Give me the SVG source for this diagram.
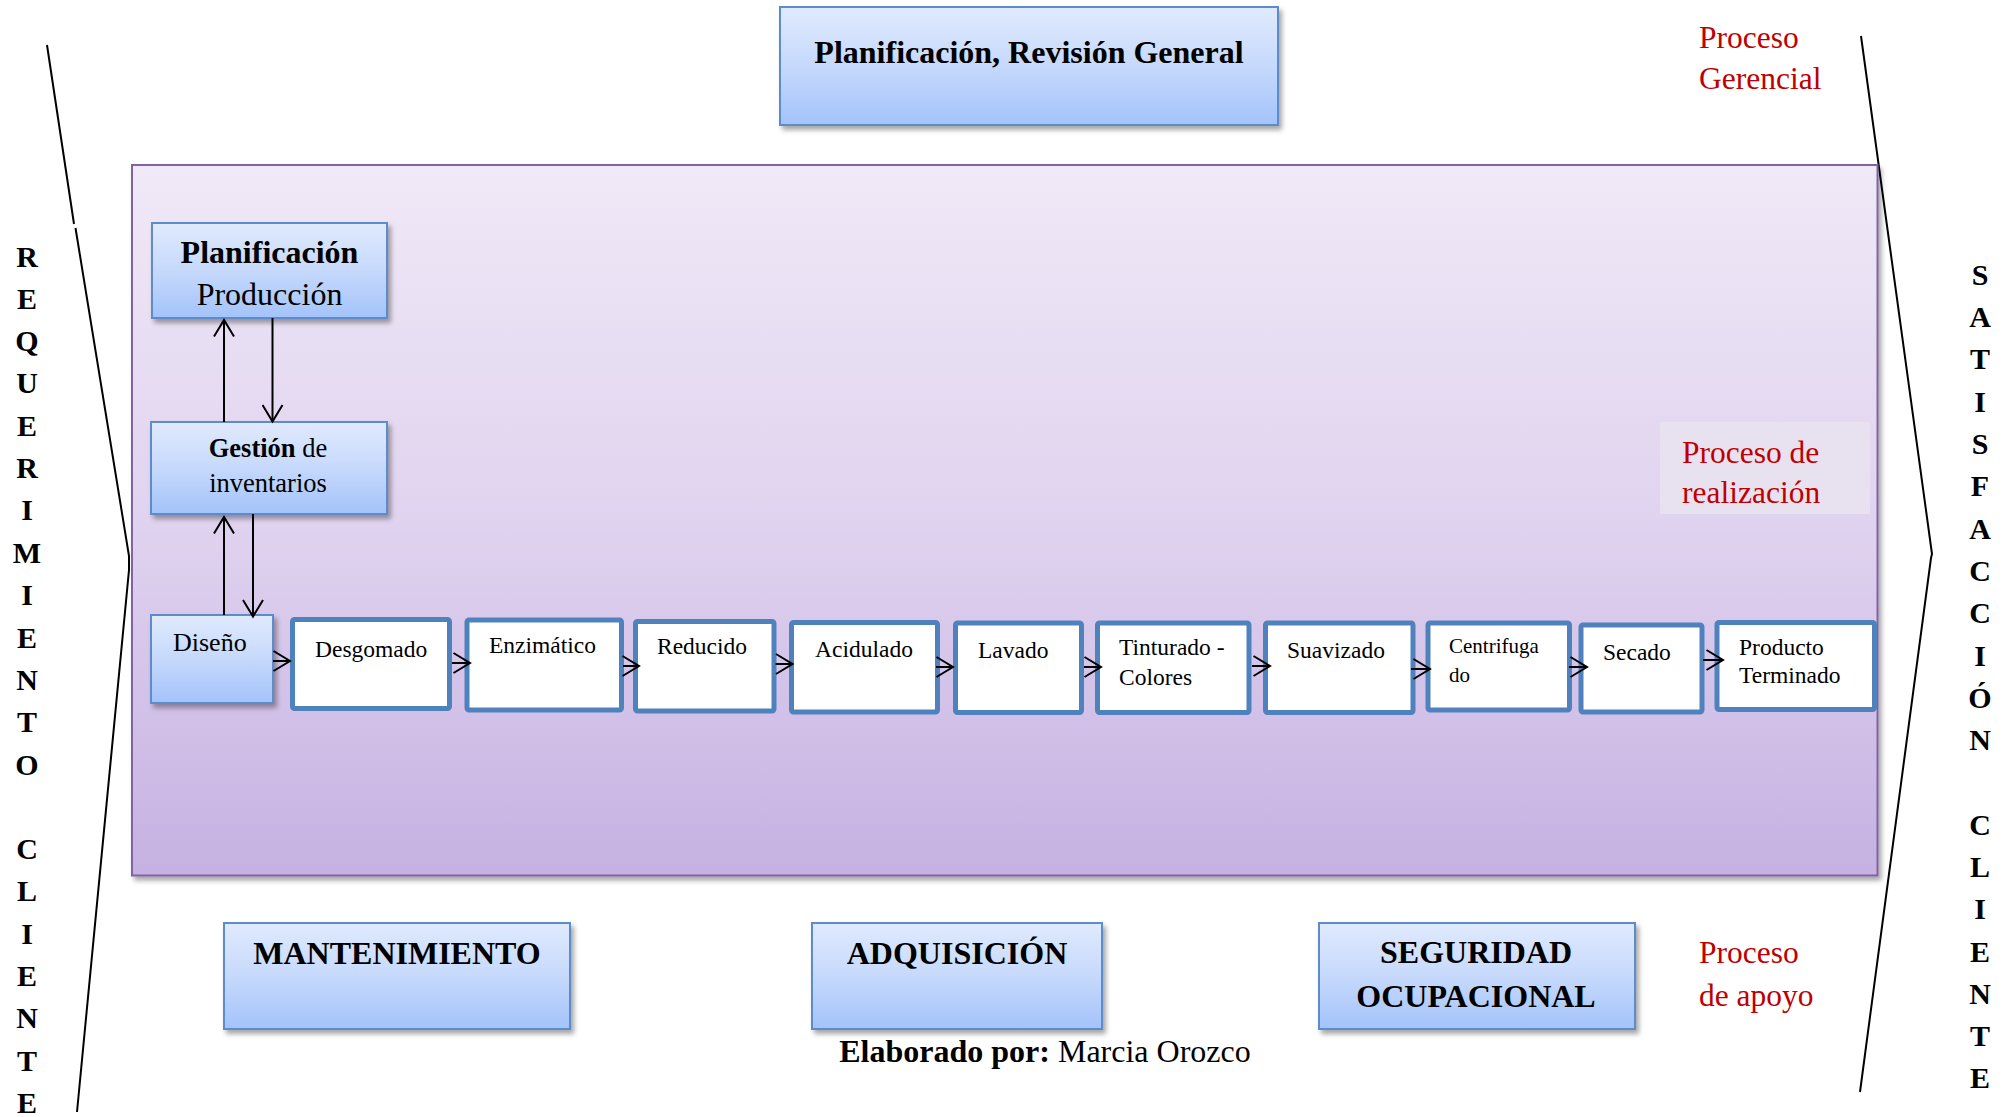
<svg xmlns="http://www.w3.org/2000/svg" width="2015" height="1117" viewBox="0 0 2015 1117">
  <defs>
    <linearGradient id="gBlue" x1="0" y1="0" x2="0" y2="1">
      <stop offset="0" stop-color="#e0eafd"/>
      <stop offset="0.5" stop-color="#c6d9fc"/>
      <stop offset="1" stop-color="#a3c3fa"/>
    </linearGradient>
    <linearGradient id="gPurple" x1="0" y1="0" x2="0" y2="1">
      <stop offset="0" stop-color="#f0e9f7"/>
      <stop offset="0.5" stop-color="#e0d3ef"/>
      <stop offset="1" stop-color="#c6b1e2"/>
    </linearGradient>
    <filter id="shadow" x="-5%" y="-5%" width="115%" height="120%">
      <feDropShadow dx="3" dy="4" stdDeviation="2.5" flood-color="#000" flood-opacity="0.35"/>
    </filter>
    <marker id="arrow" viewBox="0 0 20 22" refX="18" refY="11" markerWidth="20" markerHeight="22" markerUnits="userSpaceOnUse" orient="auto">
      <path d="M1.5,1 L18,11 L1.5,21" fill="none" stroke="#000" stroke-width="2"/>
    </marker>
  </defs>
  <style>
    text { font-family: "Liberation Serif", "Times New Roman", serif; fill: #000; }
    .blue { fill: url(#gBlue); stroke: #5b8cc9; stroke-width: 2; filter: url(#shadow); }
    .step { fill: #fff; stroke: #4f81bd; stroke-width: 5; }
    .b { font-weight: bold; }
    .red { fill: #c00000; font-size: 31.5px; }
    .side { font-size: 30px; font-weight: bold; text-anchor: middle; }
    .st { font-size: 23.5px; }
    .big { font-size: 32px; font-weight: bold; text-anchor: middle; }
    .conn line { stroke: #000; stroke-width: 2; marker-end: url(#arrow); }
    .bracket { fill: none; stroke: #000; stroke-width: 2; }
  </style>

  <rect width="2015" height="1117" fill="#fff"/>

  <!-- customer brackets -->
  <path class="bracket" d="M47,45 L74,224 M75.5,228 L129,556 L129,570 L77,1112"/>
  <path class="bracket" d="M1861,36 L1932,554 L1931,558 L1860,1092"/>

  <!-- left vertical caption -->
  <g id="requerimiento-cliente" class="side">
    <text x="27" y="267">R</text>
    <text x="27" y="309">E</text>
    <text x="27" y="351">Q</text>
    <text x="27" y="393">U</text>
    <text x="27" y="436">E</text>
    <text x="27" y="478">R</text>
    <text x="27" y="520">I</text>
    <text x="27" y="563">M</text>
    <text x="27" y="605">I</text>
    <text x="27" y="648">E</text>
    <text x="27" y="690">N</text>
    <text x="27" y="732">T</text>
    <text x="27" y="775">O</text>
    <text x="27" y="859">C</text>
    <text x="27" y="901">L</text>
    <text x="27" y="944">I</text>
    <text x="27" y="986">E</text>
    <text x="27" y="1028">N</text>
    <text x="27" y="1071">T</text>
    <text x="27" y="1113">E</text>
  </g>

  <!-- right vertical caption -->
  <g id="satisfaccion-cliente" class="side">
    <text x="1980" y="285">S</text>
    <text x="1980" y="327">A</text>
    <text x="1980" y="369">T</text>
    <text x="1980" y="412">I</text>
    <text x="1980" y="454">S</text>
    <text x="1980" y="496">F</text>
    <text x="1980" y="539">A</text>
    <text x="1980" y="581">C</text>
    <text x="1980" y="623">C</text>
    <text x="1980" y="666">I</text>
    <text x="1980" y="708">Ó</text>
    <text x="1980" y="750">N</text>
    <text x="1980" y="835">C</text>
    <text x="1980" y="877">L</text>
    <text x="1980" y="919">I</text>
    <text x="1980" y="962">E</text>
    <text x="1980" y="1004">N</text>
    <text x="1980" y="1046">T</text>
    <text x="1980" y="1088">E</text>
  </g>

  <!-- management process -->
  <g id="planificacion-general">
    <rect class="blue" x="780" y="7" width="498" height="118"/>
    <text x="1029" y="63" class="big">Planificación, Revisión General</text>
  </g>
  <g id="label-gerencial">
    <text class="red" x="1699" y="48">Proceso</text>
    <text class="red" x="1699" y="89">Gerencial</text>
  </g>

  <!-- realisation process area -->
  <g id="proceso-realizacion">
    <rect x="132" y="165" width="1745.5" height="710.5" fill="url(#gPurple)" stroke="#8064a2" stroke-width="2" filter="url(#shadow)"/>
    <rect x="1660" y="422" width="210" height="92" fill="#e8e2f0"/>
    <text class="red" x="1682" y="463">Proceso de</text>
    <text class="red" x="1682" y="503">realización</text>
  </g>

  <g id="planificacion-produccion">
    <rect class="blue" x="152" y="223" width="235" height="95"/>
    <text x="269.5" y="263" text-anchor="middle" font-size="32" class="b">Planificación</text>
    <text x="269.5" y="305" text-anchor="middle" font-size="32">Producción</text>
  </g>

  <g id="gestion-inventarios">
    <rect class="blue" x="151" y="422" width="236" height="92"/>
    <text x="268" y="457" text-anchor="middle" font-size="26.5"><tspan class="b">Gestión</tspan> de</text>
    <text x="268" y="492" text-anchor="middle" font-size="26.5">inventarios</text>
  </g>

  <g id="diseno">
    <rect class="blue" x="151" y="615" width="122" height="88"/>
    <text x="173" y="651" font-size="26">Diseño</text>
  </g>

  <!-- production steps -->
  <g id="desgomado">
    <rect class="step" x="292.5" y="619.5" width="157" height="89" rx="2"/>
    <text class="st" x="315" y="657">Desgomado</text>
  </g>
  <g id="enzimatico">
    <rect class="step" x="467" y="620" width="154.5" height="90" rx="2"/>
    <text class="st" x="489" y="653">Enzimático</text>
  </g>
  <g id="reducido">
    <rect class="step" x="635.5" y="621.5" width="138.5" height="89.5" rx="2"/>
    <text class="st" x="657" y="654">Reducido</text>
  </g>
  <g id="acidulado">
    <rect class="step" x="791.5" y="622.5" width="146" height="89.5" rx="2"/>
    <text class="st" x="815" y="657">Acidulado</text>
  </g>
  <g id="lavado">
    <rect class="step" x="955.5" y="623" width="126" height="89.5" rx="2"/>
    <text class="st" x="978" y="658">Lavado</text>
  </g>
  <g id="tinturado">
    <rect class="step" x="1097.5" y="623" width="151.5" height="89.5" rx="2"/>
    <text class="st" x="1119" y="655">Tinturado -</text>
    <text class="st" x="1119" y="685">Colores</text>
  </g>
  <g id="suavizado">
    <rect class="step" x="1265.5" y="623" width="147.5" height="89.5" rx="2"/>
    <text class="st" x="1287" y="658">Suavizado</text>
  </g>
  <g id="centrifugado">
    <rect class="step" x="1428" y="623" width="141.5" height="87" rx="2"/>
    <text x="1449" y="653" font-size="21">Centrifuga</text>
    <text x="1449" y="682" font-size="21">do</text>
  </g>
  <g id="secado">
    <rect class="step" x="1581" y="625" width="121" height="87" rx="2"/>
    <text class="st" x="1603" y="660">Secado</text>
  </g>
  <g id="producto-terminado">
    <rect class="step" x="1717" y="622.5" width="157.5" height="87" rx="2"/>
    <text class="st" x="1739" y="655">Producto</text>
    <text class="st" x="1739" y="683">Terminado</text>
  </g>

  <!-- connectors -->
  <g id="connectors" class="conn">
    <line x1="224" y1="422" x2="224" y2="320"/>
    <line x1="272.5" y1="318" x2="272.5" y2="421.5"/>
    <line x1="224" y1="615" x2="224" y2="517"/>
    <line x1="253" y1="514" x2="253" y2="616.5"/>
    <line x1="273" y1="661" x2="290" y2="661"/>
    <line x1="452" y1="663" x2="470" y2="663"/>
    <line x1="623" y1="666" x2="639" y2="666"/>
    <line x1="775.5" y1="664" x2="792.5" y2="664"/>
    <line x1="936" y1="667" x2="953" y2="667"/>
    <line x1="1084" y1="667" x2="1101" y2="667"/>
    <line x1="1252" y1="666" x2="1270" y2="666"/>
    <line x1="1411" y1="669" x2="1430" y2="669"/>
    <line x1="1569" y1="667" x2="1587" y2="667"/>
    <line x1="1703" y1="660" x2="1723" y2="660"/>
  </g>

  <!-- support processes -->
  <g id="mantenimiento">
    <rect class="blue" x="224" y="923" width="346" height="106"/>
    <text x="397" y="964" class="big">MANTENIMIENTO</text>
  </g>
  <g id="adquisicion">
    <rect class="blue" x="812" y="923" width="290" height="106"/>
    <text x="957" y="964" class="big">ADQUISICIÓN</text>
  </g>
  <g id="seguridad-ocupacional">
    <rect class="blue" x="1319" y="923" width="316" height="106"/>
    <text x="1476" y="963" class="big">SEGURIDAD</text>
    <text x="1476" y="1007" class="big">OCUPACIONAL</text>
  </g>
  <g id="label-apoyo">
    <text class="red" x="1699" y="963">Proceso</text>
    <text class="red" x="1699" y="1006">de apoyo</text>
  </g>

  <text x="1045" y="1062" text-anchor="middle" font-size="32"><tspan class="b">Elaborado por:</tspan> Marcia Orozco</text>
</svg>
